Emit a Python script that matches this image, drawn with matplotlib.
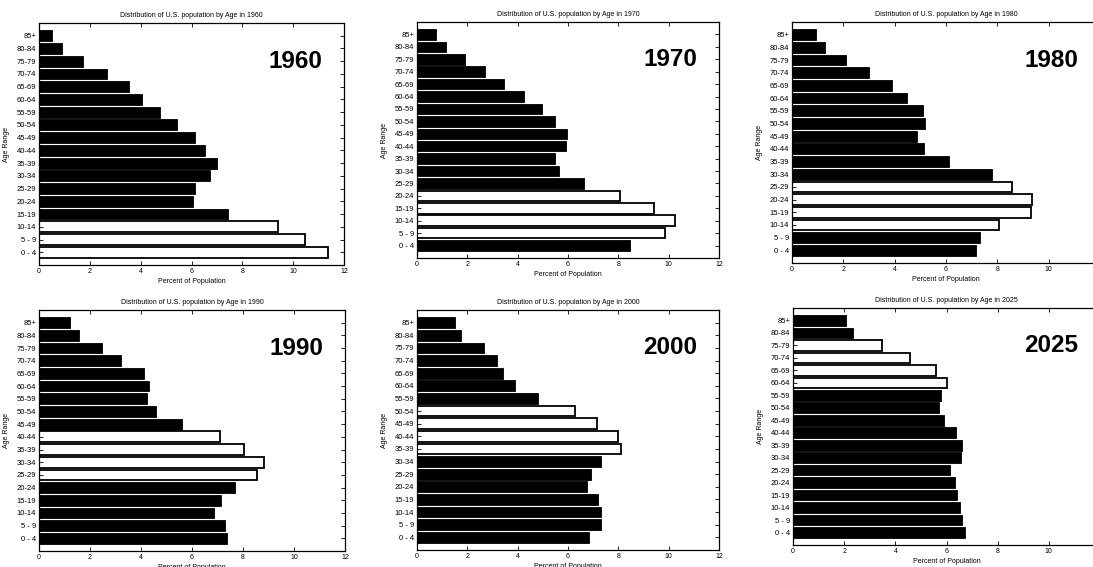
import matplotlib.pyplot as plt

plt.rcParams['font.family'] = ['Liberation Sans', 'DejaVu Sans']

ages = ["0 - 4", "5 - 9", "10-14", "15-19", "20-24", "25-29", "30-34", "35-39",
        "40-44", "45-49", "50-54", "55-59", "60-64", "65-69", "70-74", "75-79",
        "80-84", "85+"]
years = [1960, 1970, 1980, 1990, 2000, 2025]

# Anteile in Prozent, von 0-4 bis 85+
pct_1960 = [11.38, 10.48, 9.40, 7.44, 6.07, 6.12, 6.71, 7.00, 6.53, 6.12, 5.42, 4.76, 4.05, 3.55, 2.68, 1.72, 0.89, 0.51]
pct_1970 = [8.47, 9.87, 10.27, 9.43, 8.08, 6.64, 5.66, 5.48, 5.92, 5.98, 5.50, 4.95, 4.27, 3.47, 2.71, 1.92, 1.15, 0.76]
pct_1980 = [7.16, 7.34, 8.05, 9.31, 9.35, 8.57, 7.80, 6.13, 5.13, 4.86, 5.18, 5.12, 4.47, 3.88, 3.01, 2.12, 1.28, 0.95]
pct_1990 = [7.37, 7.29, 6.88, 7.15, 7.67, 8.56, 8.81, 8.05, 7.11, 5.59, 4.58, 4.25, 4.31, 4.10, 3.22, 2.46, 1.56, 1.23]
pct_2000 = [6.84, 7.33, 7.32, 7.21, 6.75, 6.91, 7.32, 8.10, 8.00, 7.16, 6.27, 4.81, 3.89, 3.42, 3.17, 2.65, 1.76, 1.51]
pct_2025 = [6.71, 6.61, 6.54, 6.42, 6.32, 6.12, 6.56, 6.59, 6.37, 5.89, 5.72, 5.78, 6.00, 5.60, 4.56, 3.49, 2.36, 2.06]

# Baby-Boom-Kohorte (weisse Balken)
boom_1960 = ["0 - 4", "5 - 9", "10-14"]
boom_1970 = ["5 - 9", "10-14", "15-19", "20-24"]
boom_1980 = ["10-14", "15-19", "20-24", "25-29"]
boom_1990 = ["25-29", "30-34", "35-39", "40-44"]
boom_2000 = ["35-39", "40-44", "45-49", "50-54"]
boom_2025 = ["60-64", "65-69", "70-74", "75-79"]

all_pct = [pct_1960, pct_1970, pct_1980, pct_1990, pct_2000, pct_2025]
all_boom = [boom_1960, boom_1970, boom_1980, boom_1990, boom_2000, boom_2025]

W, H = 1093, 567
fig = plt.figure(figsize=(W / 100, H / 100), dpi=100)

# Achsen-Rahmen in Pixeln (links, oben, rechts, unten)
boxes = [(39, 23, 344, 265), (417, 22, 719, 258), (792, 22, 1100, 263),
         (39, 310, 345, 551), (417, 310, 719, 550), (793, 308, 1100, 545)]

pos = list(range(1, len(ages) + 1))

for year, pct, boom, (l, t, r, b) in zip(years, all_pct, all_boom, boxes):
    ax = fig.add_axes([l / W, 1 - b / H, (r - l) / W, (b - t) / H])
    colors = ['white' if a in boom else 'black' for a in ages]
    lws = [1.3 if a in boom else 0.6 for a in ages]
    ax.barh(pos, pct, height=0.85, color=colors, edgecolor='black', linewidth=lws)
    ax.set_xlim(0, 12)
    ax.set_ylim(0, 19)
    ax.set_xticks(range(0, 13, 2))
    ax.set_yticks(pos)
    ax.set_yticklabels(ages)
    ax.tick_params(direction='in', top=True, right=True, length=3, width=0.6,
                   labelsize=5, pad=2)
    ax.tick_params(axis='y', labelsize=5.5)
    for s in ax.spines.values():
        s.set_linewidth(0.9)
    ax.set_title("Distribution of U.S. population by Age in %d" % year, fontsize=5, pad=4)
    ax.set_xlabel("Percent of Population", fontsize=5, labelpad=2)
    ax.set_ylabel("Age Range", fontsize=5)
    ax.yaxis.set_label_coords(-0.095, 0.5)
    ax.text(11.15, 16.0, str(year), ha='right', va='center', fontsize=17.5,
            fontweight='bold')

fig.savefig("out.png", dpi=100)
